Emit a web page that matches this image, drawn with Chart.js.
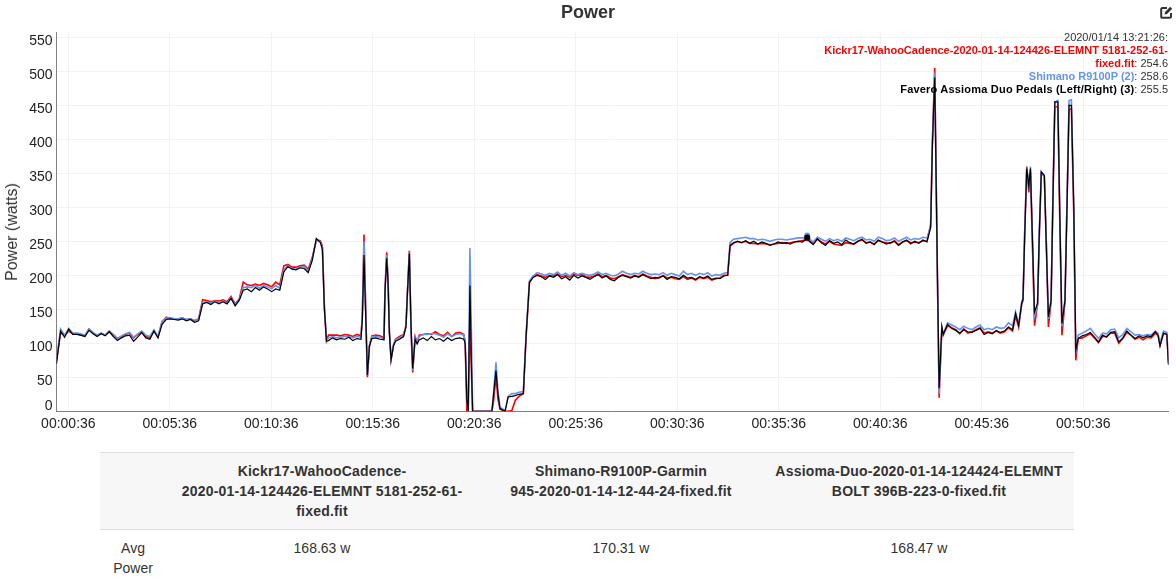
<!DOCTYPE html>
<html>
<head>
<meta charset="utf-8">
<title>Power</title>
<script src="https://cdn.jsdelivr.net/npm/chart.js@4/dist/chart.umd.min.js"></script>
<style>
  html, body { margin: 0; padding: 0; background: #fff; overflow: hidden; }
  body { width: 1176px; height: 579px; position: relative; font-family: "Liberation Sans", Arial, sans-serif; color: #333; }
  #chartBox { position: absolute; left: 0; top: 0; width: 1176px; height: 440px; }
  #yLabel { position: absolute; left: 12px; top: 232px; font-size: 16px; line-height: 18px; color: #333; white-space: nowrap; transform: translate(-50%, -50%) rotate(-90deg); }
  #readout { position: absolute; right: 8px; top: 31px; width: 360px; text-align: right; font-size: 11px; line-height: 13px; color: #333; }
  #readout b { font-weight: bold; }
  #readout b.wide { letter-spacing: 0.2px; }
  #editIcon { position: absolute; left: 1160px; top: 6px; }
  table { position: absolute; left: 100px; top: 452px; width: 974px; table-layout: fixed; border-collapse: collapse; font-size: 14px; line-height: 20px; }
  th, td { padding: 8px; text-align: center; vertical-align: top; font-weight: normal; }
  thead th { background: #f7f7f7; font-weight: bold; letter-spacing: 0.2px; border-top: 1px solid #ddd; border-bottom: 1px solid #ddd; }
</style>
</head>
<body>
<div id="chartBox"><canvas id="powerChart" width="1176" height="440"></canvas></div>
<div id="yLabel">Power (watts)</div>
<div id="readout"></div>
<svg id="editIcon" width="13" height="13" viewBox="0 0 13 13" aria-hidden="true">
  <path d="M7 2H2.5A1.2 1.2 0 0 0 1.2 3.2v7.3a1.2 1.2 0 0 0 1.3 1.3h7.3a1.2 1.2 0 0 0 1.2-1.3V7" fill="none" stroke="#333" stroke-width="2"/>
  <path d="M4.5 8.5 5 6l5.2-5.2 2 2L7 8z" fill="#333"/>
</svg>
<table id="statsTable">
  <colgroup><col style="width:66px"><col style="width:312px"><col style="width:286px"><col style="width:310px"></colgroup>
  <thead><tr id="statsHead"></tr></thead>
  <tbody><tr id="statsRow"></tr></tbody>
</table>
<script>
// elapsed seconds for every sample
const times = [
  1,13,25,37,49,61,73,85,97,109,
  121,133,145,157,169,181,193,205,217,229,
  241,253,265,277,289,301,313,325,337,349,
  361,373,385,397,409,421,433,445,457,469,
  481,493,505,517,529,541,553,565,577,589,
  601,613,625,637,649,661,673,685,697,709,
  721,733,745,757,769,781,787,793,799,805,
  817,829,841,853,865,877,889,901,
  905,910,915,920,926,933,945,957,969,
  972,977,981,985,990,997,1003,1015,1027,1034,1038,1044,1049,1054,1061,1067,1073,
  1085,1097,1109,1121,1133,1145,1157,1169,1181,1193,1205,
  1209,1214,1218,1223,1228,1231,1243,1288,1293,1300,1306,1312,1327,1336,1347,1357,1368,1381,1389,1399,1410,
  1422,1434,1446,1458,1470,1482,1494,1506,1518,1530,
  1542,1554,1566,1578,1590,1602,1614,1626,1638,1650,
  1662,1674,1686,1698,1710,1722,1734,1746,1758,1770,
  1782,1794,1806,1818,1830,1842,1854,1866,1878,1890,
  1902,1914,1926,1938,1950,1962,1974,
  1985,1992,2002,
  2014,2026,2038,2050,2062,2074,2086,2098,2110,2122,2134,2146,2158,2170,2182,2194,2206,
  2214,2220,2226,
  2238,2250,2262,2274,2286,2298,2310,2322,2334,2346,2358,2370,2382,2394,2406,2418,2430,2442,2454,2466,2478,2490,2502,2514,2526,2538,2550,2562,2574,
  2585,2590,2597,2605,2610,2618,2622,2635,
  2647,2659,2671,2683,2695,2707,2719,2731,2743,2755,2767,2779,2791,2803,2815,2827,
  2836,2845,2854,2858,2863,2869,2875,2880,2886,2892,2901,2906,2912,2921,2927,2933,2941,2946,2952,2961,2967,2973,2982,2988,2994,3001,3008,3014,3021,
  3033,3045,3057,3069,3081,3093,3105,3117,3129,3141,3153,3165,3177,3189,3201,3213,3225,3237,3249,3257,3263,3273,3283,3288
];

// Kickr17
const kickrPower = [
  75,115,112,118,114,114,112,111,121,115,
  112,115,112,118,113,107,110,113,115,108,
  113,116,110,108,118,109,132,138,137,136,
  136,137,135,136,133,136,164,163,161,163,
  162,164,161,169,158,165,190,186,185,187,
  185,188,186,183,190,186,214,216,212,212,
  214,215,209,226,252,251,243,152,104,112,
  112,112,111,113,112,110,113,111,
  140,260,150,50,96,111,112,111,108,
  178,234,195,118,76,97,106,110,113,126,172,236,118,57,110,102,112,
  113,114,113,117,113,111,116,110,115,116,113,
  100,0,0,138,50,0,0,0,15,52,18,3,0,0,1,16,22,26,108,189,199,
  201,199,197,200,199,202,198,200,197,202,
  200,201,198,197,199,202,198,200,196,195,
  198,201,199,197,200,198,202,199,197,195,
  197,200,196,197,195,194,198,194,196,193,
  197,195,197,193,195,196,200,
  200,243,247,
  250,248,250,247,247,246,247,246,245,246,247,248,247,248,249,250,251,
  252,254.6,251,
  247,253,249,246,250,246,245,244,248,247,246,250,252,248,249,246,251,249,248,247,251,245,249,251,248,249,248,251,250,
  275,395,505,195,20,122,112,126,
  123,120,114,121,115,117,120,123,115,117,115,118,115,117,123,118,
  140,124,157,163,265,360,322,352,240,126,158,255,351,345,245,124,162,305,448,448,270,112,162,305,443,445,290,75,107,
  108,111,114,108,101,110,110,115,115,100,107,116,112,106,109,105,109,108,115,112,97,114,114,72
];

// Shimano R9100P
const shimanoPower = [
  75,121,112,122,115,115,114,112,121,116,
  112,115,112,118,112,106,111,114,116,109,
  114,118,112,110,120,110,132,137,137,136,
  136,137,135,136,134,135,160,161,159,162,
  160,162,159,167,157,164,182,183,182,185,
  181,185,183,180,185,181,208,214,210,209,
  212,213,206,224,252,250,240,150,104,108,
  110,108,109,110,110,108,110,109,
  138,250,145,52,97,110,110,109,106,
  176,230,192,116,76,98,105,108,112,125,172,234,122,60,108,102,110,
  113,113,114,114,112,109,114,110,113,114,112,
  104,20,0,240,100,0,0,0,28,72,30,6,1,22,26,26,28,29,112,192,199,
  204,202,200,203,201,205,200,203,199,204,
  201,203,201,200,202,205,201,203,200,199,
  202,206,203,201,203,202,206,203,201,202,
  201,204,200,203,201,199,206,201,203,200,
  203,201,204,199,201,200,203,
  204,248,253,
  254,255,256,254,254,252,253,252,250,252,253,253,252,253,254,255,255,
  255,258.6,254,
  249,256,253,250,254,251,253,250,255,253,251,254,256,252,253,250,256,254,251,252,255,250,253,256,252,254,253,256,255,
  272,392,498,198,26,124,114,130,
  127,124,120,125,122,120,124,127,120,122,120,124,122,123,130,126,
  146,128,160,167,262,358,334,360,255,140,156,265,352,345,245,136,165,305,455,457,285,125,165,310,457,458,305,85,112,
  115,118,122,114,107,115,114,120,121,108,113,122,117,112,113,111,113,112,118,115,100,118,116,70
];

// Favero Assioma
const assiomaPower = [
  70,118,109,121,113,113,112,110,119,114,
  110,114,111,117,110,104,108,111,112,103,
  109,116,108,106,118,108,128,135,136,135,
  134,136,133,135,131,133,158,160,157,161,
  158,161,158,166,155,163,178,180,176,182,
  178,183,180,176,180,178,205,213,209,208,
  211,210,204,222,254,248,238,150,103,104,
  108,105,107,106,109,104,107,106,
  135,230,140,53,96,107,108,106,105,
  175,225,190,115,76,96,103,106,110,124,170,232,125,63,106,99,105,
  108,104,110,105,107,103,108,104,107,108,106,
  100,16,0,185,60,0,0,0,25,60,25,4,0,21,22,23,25,26,110,190,197,
  200,198,194,199,197,201,195,198,193,200,
  196,199,197,194,198,201,196,199,194,192,
  197,200,198,196,199,197,201,198,195,197,
  196,199,194,198,197,195,200,196,197,194,
  198,196,199,194,196,195,199,
  200,244,248,
  250,248,251,247,250,246,249,247,244,246,249,247,248,246,249,250,249,
  252,255.5,250,
  245,254,248,244,251,247,249,245,252,248,246,250,253,247,249,245,252,249,246,248,250,244,249,252,246,250,247,252,249,
  270,390,491,200,34,124,113,128,
  122,119,115,120,117,116,119,122,113,116,114,119,116,118,124,120,
  144,126,159,165,260,357,332,357,250,146,159,260,352,347,240,139,163,300,455,455,280,129,163,300,450,450,300,90,107,
  111,113,116,109,102,112,109,116,117,102,108,118,112,107,111,108,111,110,117,112,96,115,113,68
];

const xTickSeconds = [36, 336, 636, 936, 1236, 1536, 1836, 2136, 2436, 2736, 3036];
const xTickLabels = ["00:00:36", "00:05:36", "00:10:36", "00:15:36", "00:20:36", "00:25:36", "00:30:36", "00:35:36", "00:40:36", "00:45:36", "00:50:36"];
const yTicks = [0, 50, 100, 150, 200, 250, 300, 350, 400, 450, 500, 550];

// the sample the hover readout is sitting on
const hoverTime = 2220;
const hoverLabel = "2020/01/14 13:21:26:";
const seriesNames = ["Kickr17-WahooCadence-2020-01-14-124426-ELEMNT 5181-252-61-fixed.fit", "Shimano R9100P (2)", "Favero Assioma Duo Pedals (Left/Right) (3)"];
const seriesColors = ["#ff0000", "#6495ed", "#000000"];
const hoverValues = [254.6, 258.6, 255.5];

const tableHeaders = [
  "",
  "Kickr17-WahooCadence-<br>2020-01-14-124426-ELEMNT 5181-252-61-<br>fixed.fit",
  "Shimano-R9100P-Garmin<br>945-2020-01-14-12-44-24-fixed.fit",
  "Assioma-Duo-2020-01-14-124424-ELEMNT<br>BOLT 396B-223-0-fixed.fit"
];
const tableRow = ["Avg Power", "168.63 w", "170.31 w", "168.47 w"];

Chart.defaults.font.family = '"Liberation Sans", Arial, sans-serif';

const hoverIndex = times.indexOf(hoverTime);

// chart.js paints the lowest order last, so black ends up on top
function makeDataset(name, values, color, order, width) {
  return {
    label: name,
    data: values.map(function (v, i) { return { x: times[i], y: v }; }),
    order: order,
    borderColor: color,
    backgroundColor: color,
    borderWidth: width,
    tension: 0,
    pointRadius: function (c) { return c.dataIndex === hoverIndex ? 3 : 0; },
    pointBorderWidth: 0
  };
}

const gridColor = "#f2f2f2";
const axisColor = "#808080";

new Chart(document.getElementById("powerChart"), {
  type: "line",
  data: {
    datasets: [
      makeDataset(seriesNames[0], kickrPower, seriesColors[0], 3, 1.6),
      makeDataset(seriesNames[1], shimanoPower, seriesColors[1], 2, 1.6),
      makeDataset(seriesNames[2], assiomaPower, seriesColors[2], 1, 1.2)
    ]
  },
  options: {
    responsive: false,
    animation: false,
    layout: { padding: { left: 7.5, right: 7.5, top: 0, bottom: 0 } },
    plugins: {
      legend: { display: false },
      tooltip: { enabled: false },
      title: {
        display: true,
        text: "Power",
        color: "#333",
        font: { size: 18, weight: "bold" },
        padding: { top: 2.5, bottom: 8.2 }
      }
    },
    scales: {
      x: {
        type: "linear",
        min: 1,
        max: 3288,
        afterBuildTicks: function (scale) {
          scale.ticks = xTickSeconds.map(function (v) { return { value: v }; });
        },
        afterFit: function (scale) { scale.height = 28.7; },
        grid: { color: gridColor, drawTicks: false },
        border: { color: axisColor },
        ticks: {
          autoSkip: false,
          maxRotation: 0,
          padding: 4,
          color: "#222",
          font: { size: 14 },
          callback: function (v) { return xTickLabels[xTickSeconds.indexOf(v)]; }
        }
      },
      y: {
        min: 0,
        max: 557.4,
        afterBuildTicks: function (scale) {
          scale.ticks = yTicks.map(function (v) { return { value: v }; });
        },
        afterFit: function (scale) { scale.width = 49; },
        grid: { color: gridColor, drawTicks: false },
        border: { color: axisColor },
        ticks: {
          autoSkip: false,
          padding: 4,
          labelOffset: 3.5,
          color: "#222",
          font: { size: 14 },
          // the bottom label sits above the axis line
          callback: function (v) { return v === 0 ? ["0", ""] : String(v); }
        }
      }
    }
  }
});

// hover readout over the plot
var readoutHtml = hoverLabel + "<br>";
seriesNames.forEach(function (name, i) {
  readoutHtml += '<b class="' + (i === 2 ? "wide" : "") + '" style="color:' + seriesColors[i] + '">' + name + "</b>: " + hoverValues[i].toFixed(1) + "<br>";
});
document.getElementById("readout").innerHTML = readoutHtml;

// stats table under the chart
document.getElementById("statsHead").innerHTML = tableHeaders.map(function (t) { return "<th>" + t + "</th>"; }).join("");
document.getElementById("statsRow").innerHTML = tableRow.map(function (t) { return "<td>" + t + "</td>"; }).join("");
</script>
</body>
</html>
